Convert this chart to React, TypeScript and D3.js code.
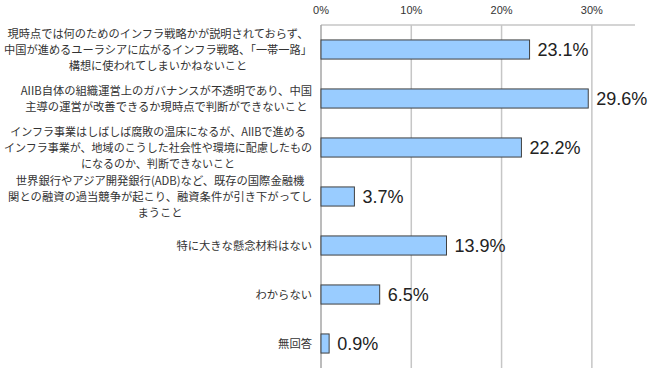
import React, { useEffect, useRef } from "react";
import * as d3 from "d3";

// category labels, one entry per line
const categories: string[][] = [
  [
    "現時点では何のためのインフラ戦略かが説明されておらず、",
    "中国が進めるユーラシアに広がるインフラ戦略、「一帯一路」",
    "構想に使われてしまいかねないこと",
  ],
  [
    "AIIB自体の組織運営上のガバナンスが不透明であり、中国",
    "主導の運営が改善できるか現時点で判断ができないこと",
  ],
  [
    "インフラ事業はしばしば腐敗の温床になるが、AIIBで進める",
    "インフラ事業が、地域のこうした社会性や環境に配慮したもの",
    "になるのか、判断できないこと",
  ],
  [
    "世界銀行やアジア開発銀行(ADB)など、既存の国際金融機",
    "関との融資の過当競争が起こり、融資条件が引き下がってし",
    "まうこと",
  ],
  ["特に大きな懸念材料はない"],
  ["わからない"],
  ["無回答"],
];
const values = [23.1, 29.6, 22.2, 3.7, 13.9, 6.5, 0.9];
const ticks = [0, 10, 20, 30];

const W = 650;
const H = 373;

export default function App() {
  const ref = useRef<SVGSVGElement>(null);

  useEffect(() => {
    const svg = d3.select(ref.current);
    svg.selectAll("*").remove();

    const left = 321;
    const right = 637;
    const top = 25;
    const bottom = 368;

    const x = d3.scaleLinear().domain([0, 35]).range([left, right]);
    const idx = categories.map((_, i) => i);
    const y = d3.scaleBand<number>().domain(idx).range([top, bottom]).paddingInner(0.61).paddingOuter(0.305);
    const band = d3.scaleBand<number>().domain(idx).range([top, bottom]);

    // gridlines
    svg
      .append("g")
      .selectAll("line")
      .data(ticks.slice(1))
      .join("line")
      .attr("x1", (d) => x(d))
      .attr("x2", (d) => x(d))
      .attr("y1", top)
      .attr("y2", bottom)
      .attr("stroke", "#c6c6c6")
      .attr("stroke-width", 1.5);

    svg
      .append("line")
      .attr("x1", left)
      .attr("x2", 635)
      .attr("y1", top)
      .attr("y2", top)
      .attr("stroke", "#c6c6c6")
      .attr("stroke-width", 1.5);

    svg
      .append("line")
      .attr("x1", left)
      .attr("x2", left)
      .attr("y1", top)
      .attr("y2", bottom)
      .attr("stroke", "#a6a6a6")
      .attr("stroke-width", 1.5);

    // tick labels
    svg
      .append("g")
      .selectAll("text")
      .data(ticks)
      .join("text")
      .attr("x", (d) => x(d))
      .attr("y", 14)
      .attr("text-anchor", "middle")
      .style("font-family", "'Liberation Sans', Arial, sans-serif")
      .style("font-size", "11px")
      .attr("fill", "#333")
      .text((d) => `${d}%`);

    // bars
    svg
      .append("g")
      .selectAll("rect")
      .data(values)
      .join("rect")
      .attr("x", x(0))
      .attr("y", (_, i) => y(i)!)
      .attr("width", (d) => x(d) - x(0))
      .attr("height", y.bandwidth())
      .attr("fill", "#99ccff")
      .attr("stroke", "#404040")
      .attr("stroke-width", 1);

    // value labels
    svg
      .append("g")
      .selectAll("text")
      .data(values)
      .join("text")
      .attr("x", (d) => x(d) + 8)
      .attr("y", (_, i) => y(i)! + y.bandwidth() / 2)
      .attr("dy", "0.36em")
      .style("font-family", "'Liberation Sans', Arial, sans-serif")
      .style("font-size", "18px")
      .attr("fill", "#222")
      .text((d) => `${d.toFixed(1)}%`);

    // category labels: lines centred inside a block whose right edge sits at 312
    const lineH = 16;
    const maxAllowed = 308;
    categories.forEach((lines, i) => {
      const g = svg.append("g");
      const cy = band(i)! + band.bandwidth() / 2;
      const texts = g
        .selectAll("text")
        .data(lines)
        .join("text")
        .attr("y", (_, j) => cy + (j - (lines.length - 1) / 2) * lineH)
        .attr("dy", "0.36em")
        .attr("text-anchor", "middle")
        .style("font-family", "'Noto Sans CJK JP', sans-serif")
        .style("font-size", "11.3px")
        .attr("fill", "#333")
        .text((d) => d);
      let maxW = 0;
      texts.each(function () {
        maxW = Math.max(maxW, (this as SVGTextElement).getComputedTextLength());
      });
      const k = Math.min(1, maxAllowed / maxW);
      if (k < 1) {
        texts.each(function () {
          const t = this as SVGTextElement;
          t.setAttribute("textLength", String(t.getComputedTextLength() * k));
          t.setAttribute("lengthAdjust", "spacingAndGlyphs");
        });
      }
      texts.attr("x", 312 - (maxW * k) / 2);
    });
  }, []);

  return (
    <svg
      ref={ref}
      width={W}
      height={H}
      style={{ display: "block", position: "absolute", left: 0, top: 0 }}
    />
  );
}
